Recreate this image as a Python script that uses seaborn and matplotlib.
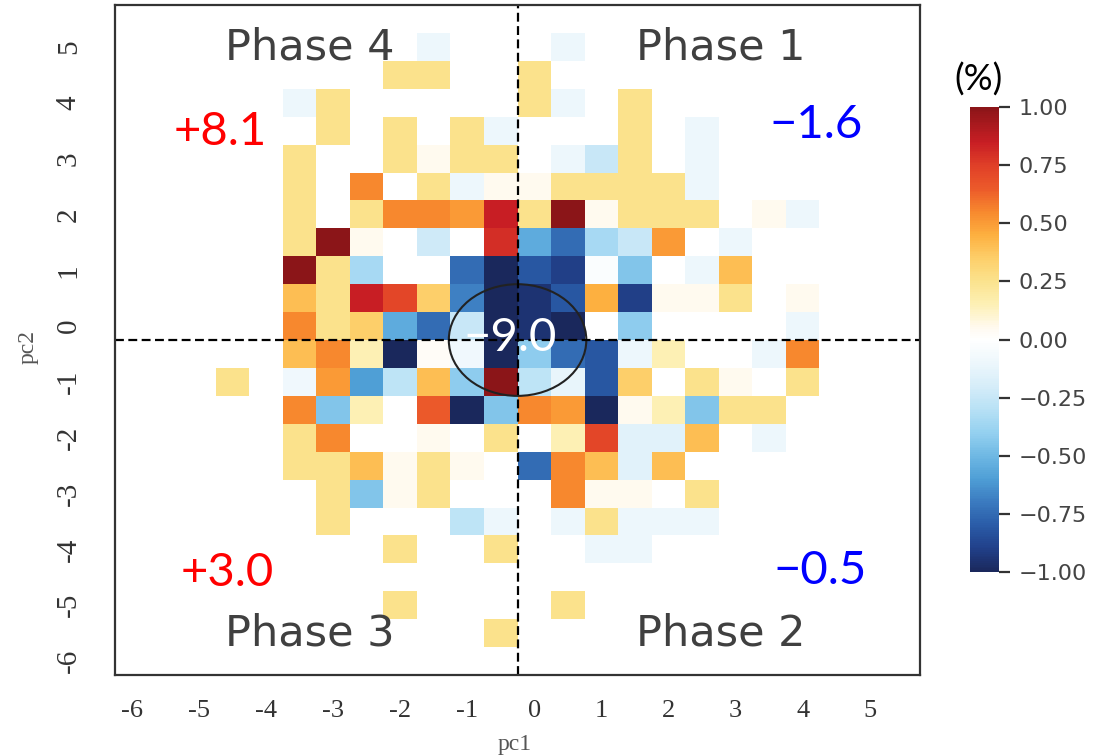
import numpy as np
import pandas as pd
import matplotlib
matplotlib.use("Agg")
import matplotlib.pyplot as plt
from matplotlib.colors import LinearSegmentedColormap
from matplotlib.patches import Ellipse
import seaborn as sns

# bin centres of the two principal components
pc1_bins = [-6.0, -5.5, -5.0, -4.5, -4.0, -3.5, -3.0, -2.5, -2.0, -1.5, -1.0, -0.5,
            0.0, 0.5, 1.0, 1.5, 2.0, 2.5, 3.0, 3.5, 4.0, 4.5, 5.0, 5.5]
pc2_bins = [5.5, 5.0, 4.5, 4.0, 3.5, 3.0, 2.5, 2.0, 1.5, 1.0, 0.5, 0.0,
            -0.5, -1.0, -1.5, -2.0, -2.5, -3.0, -3.5, -4.0, -4.5, -5.0, -5.5, -6.0]
pc1_ticks = [-6, -5, -4, -3, -2, -1, 0, 1, 2, 3, 4, 5]
pc2_ticks = [5, 4, 3, 2, 1, 0, -1, -2, -3, -4, -5, -6]
cbar_ticks = [1.0, 0.75, 0.5, 0.25, 0.0, -0.25, -0.5, -0.75, -1.0]

# change (%) per bin, rows from pc2 = 5.5 down to -6.0, empty bins = _
_ = np.nan
change = [
    [_, _, _, _, _, _, _, _, _, _, _, _, _, _, _, _, _, _, _, _, _, _, _, _],
    [_, _, _, _, _, _, _, _, _, -.1, _, _, _, -.1, _, _, _, _, _, _, _, _, _, _],
    [_, _, _, _, _, _, _, _, .25, .25, _, _, .25, _, _, _, _, _, _, _, _, _, _, _],
    [_, _, _, _, _, -.1, .25, _, _, _, _, _, .25, -.1, _, .25, _, _, _, _, _, _, _, _],
    [_, _, _, _, _, _, .25, _, .25, _, .25, -.1, _, _, _, .25, _, -.1, _, _, _, _, _, _],
    [_, _, _, _, _, .25, _, _, .25, .05, .25, .25, _, -.1, -.25, .25, _, -.1, _, _, _, _, _, _],
    [_, _, _, _, _, .25, _, .55, _, .25, -.1, .05, .05, .25, .25, .25, .25, -.1, _, _, _, _, _, _],
    [_, _, _, _, _, .25, _, .25, .55, .55, .5, .85, .25, 1.0, .05, .25, .25, .25, _, .05, -.1, _, _, _],
    [_, _, _, _, _, .25, 1.0, .05, _, -.22, _, .8, -.55, -.75, -.35, -.25, .5, _, -.1, _, _, _, _, _],
    [_, _, _, _, _, 1.0, .25, -.35, _, _, -.75, -1.0, -.82, -.9, -.03, -.45, _, -.1, .4, _, _, _, _, _],
    [_, _, _, _, _, .4, .25, .85, .72, .35, -.68, -1.0, -.95, -.82, .45, -.9, .05, .05, .25, _, .05, _, _, _],
    [_, _, _, _, _, .55, .25, .35, -.55, -.75, -.25, -1.0, -.95, -1.0, _, -.42, _, _, _, _, -.1, _, _, _],
    [_, _, _, _, _, .4, .55, .15, -1.0, .03, -.08, -1.0, -.42, -.75, -.82, -.1, .15, _, _, -.1, .55, _, _, _],
    [_, _, _, .25, _, -.08, .5, -.6, -.28, .4, -.42, 1.0, -.28, -.12, -.82, .35, _, .25, .05, _, .25, _, _, _],
    [_, _, _, _, _, .55, -.45, .15, _, .65, -1.0, -.45, .55, .5, -1.0, .05, .15, -.45, .25, .25, _, _, _, _],
    [_, _, _, _, _, .25, .55, _, _, .05, _, .25, _, .15, .72, -.15, -.15, .4, _, -.1, _, _, _, _],
    [_, _, _, _, _, .25, .25, .4, .05, .25, .05, _, -.75, .55, .4, -.15, .4, _, _, _, _, _, _, _],
    [_, _, _, _, _, _, .25, -.45, .05, .25, _, _, _, .55, .05, .05, _, .25, _, _, _, _, _, _],
    [_, _, _, _, _, _, .25, _, _, _, -.28, -.1, _, -.1, .25, -.1, -.1, -.1, _, _, _, _, _, _],
    [_, _, _, _, _, _, _, _, .25, _, _, .25, _, _, -.1, -.1, _, _, _, _, _, _, _, _],
    [_, _, _, _, _, _, _, _, _, _, _, _, _, _, _, _, _, _, _, _, _, _, _, _],
    [_, _, _, _, _, _, _, _, .25, _, _, _, _, .25, _, _, _, _, _, _, _, _, _, _],
    [_, _, _, _, _, _, _, _, _, _, _, .25, _, _, _, _, _, _, _, _, _, _, _, _],
    [_, _, _, _, _, _, _, _, _, _, _, _, _, _, _, _, _, _, _, _, _, _, _, _],
]

phase_labels = ["Phase 4", "Phase 1", "Phase 3", "Phase 2"]
quadrant_totals = ["+8.1", "\u22121.6", "+3.0", "\u22120.5"]
centre_total = "\u22129.0"

df = pd.DataFrame(change, index=pc2_bins, columns=pc1_bins)

# diverging map that is white around zero
stops = [(-1.0, "#1a285c"), (-0.9, "#21408a"), (-0.8, "#2a5ca8"), (-0.7, "#3b7bc0"),
         (-0.6, "#4f9fd6"), (-0.5, "#6fb9e4"), (-0.4, "#95d1f0"), (-0.3, "#b8e1f5"),
         (-0.2, "#d6edf9"), (-0.1, "#edf7fc"), (0.0, "#ffffff"), (0.05, "#fffaf0"),
         (0.15, "#fdf0b5"), (0.25, "#fbe38e"), (0.35, "#fdcf6a"), (0.45, "#fdb040"),
         (0.55, "#f7892e"), (0.65, "#ec5a2a"), (0.75, "#e04028"), (0.85, "#c81e24"),
         (1.0, "#8b1518")]
cmap = LinearSegmentedColormap.from_list("phase", [((v + 1) / 2, c) for v, c in stops])

sns.set_style("white")
fig = plt.figure(figsize=(11.02, 7.56), dpi=100)
ax = fig.add_axes([0.1044, 0.1071, 0.7305, 0.8862])
cax = fig.add_axes([0.880, 0.2434, 0.0263, 0.615])

sns.heatmap(df, ax=ax, cbar_ax=cax, cmap=cmap, vmin=-1, vmax=1,
            xticklabels=False, yticklabels=False)

# axis ticks at whole units
ax.set_xticks([pc1_bins.index(float(t)) + 0.5 for t in pc1_ticks])
ax.set_xticklabels([str(t) for t in pc1_ticks], family="Liberation Serif",
                   fontsize=19, color="#333333", rotation=0)
ax.set_yticks([pc2_bins.index(float(t)) + 0.5 for t in pc2_ticks])
ax.set_yticklabels([str(t) for t in pc2_ticks], family="Liberation Serif",
                   fontsize=21, color="#333333", rotation=90, va="center")
ax.tick_params(axis="x", length=0, pad=18)
ax.tick_params(axis="y", length=0, pad=24)
ax.set_xlabel("pc1", family="Liberation Serif", fontsize=17, color="#555555")
ax.set_ylabel("pc2", family="Liberation Serif", fontsize=17, color="#555555")
ax.xaxis.set_label_coords(0.497, -0.088)
ax.yaxis.set_label_coords(-0.095, 0.49)
for s in ax.spines.values():
    s.set_visible(True)
    s.set_color("#333333")
    s.set_linewidth(1.6)

# phase boundaries and the central circle
x0 = pc1_bins.index(0.0)
y0 = pc2_bins.index(-0.5)
ax.axvline(x0, color="black", lw=1.6, ls=(0, (4, 2)))
ax.axhline(y0, color="black", lw=1.6, ls=(0, (4, 2)))
ax.add_patch(Ellipse((x0, y0), 4.1, 4.0, fill=False, ec="#222222", lw=1.5))

# colorbar
cbar = ax.collections[0].colorbar
cbar.outline.set_visible(False)
cbar.set_ticks(cbar_ticks)
cbar.set_ticklabels([f"{t:.2f}".replace("-", "\u2212") for t in cbar_ticks])
cax.tick_params(length=8, width=1.6, color="#333333", pad=6, labelsize=16,
                labelcolor="#444444")
fig.text(979 / 1102, 1 - 80 / 756, "(%)", family="Lato", fontsize=26,
         ha="center", va="center", color="black")

# quadrant annotations
phase_pos = [(310, 47), (721, 47), (310, 634), (721, 634)]
for lab, (px, py) in zip(phase_labels, phase_pos):
    fig.text(px / 1102, 1 - py / 756, lab, family="DejaVu Sans", fontsize=31,
             ha="center", va="center", color="#404040")

total_pos = [(220, 132), (816, 125), (227, 573), (820, 571)]
total_col = ["#ff0000", "#0000ff", "#ff0000", "#0000ff"]
for lab, (px, py), c in zip(quadrant_totals, total_pos, total_col):
    fig.text(px / 1102, 1 - py / 756, lab, family="Lato", fontsize=34,
             ha="center", va="center", color=c)

fig.text(510 / 1102, 1 - 338 / 756, centre_total, family="Lato", fontsize=34,
         ha="center", va="center", color="white")

fig.savefig("out.png", dpi=100)
